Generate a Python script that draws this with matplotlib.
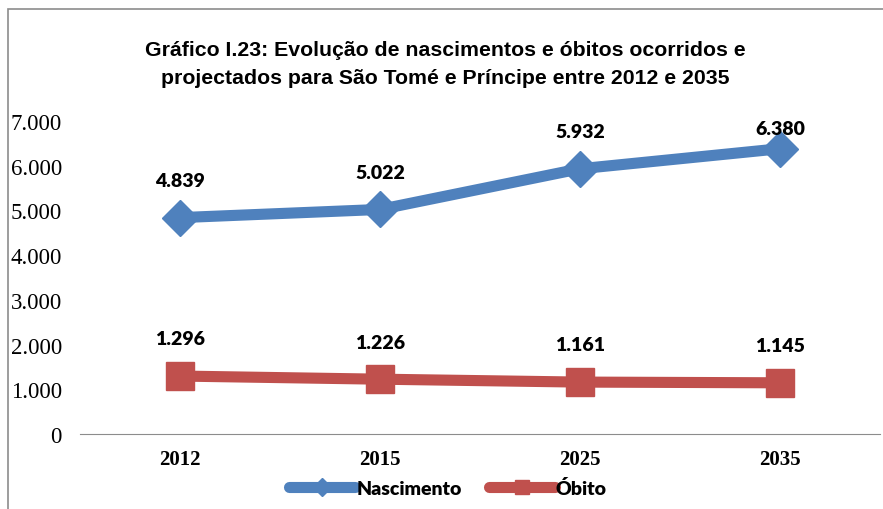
import matplotlib
matplotlib.use("Agg")
import matplotlib.pyplot as plt
from matplotlib.patches import Rectangle
from matplotlib.ticker import FuncFormatter

# Dados do gráfico
anos = ["2012", "2015", "2025", "2035"]
nascimento = [4839, 5022, 5932, 6380]
obito = [1296, 1226, 1161, 1145]

azul = "#4F81BD"
vermelho = "#C0504D"

fig = plt.figure(figsize=(8.83, 5.10), dpi=100)
ax = fig.add_axes([80 / 883, 1 - 435 / 510, 800 / 883, 313 / 510])

# borda do gráfico (só esquerda e topo aparecem)
fig.patches.append(Rectangle((8 / 883, -0.1), 1.2, 1 - 10 / 510 + 0.1,
                             transform=fig.transFigure, fill=False,
                             edgecolor="#8c8c8c", linewidth=1.2))

x = range(len(anos))
ax.plot(x, nascimento, color=azul, linewidth=8, marker="D", markersize=18,
        solid_capstyle="round", label="Nascimento", clip_on=False)
ax.plot(x, obito, color=vermelho, linewidth=8, marker="s", markersize=20,
        solid_capstyle="round", label="Óbito", clip_on=False)

fmt = lambda v: f"{v:,.0f}".replace(",", ".")
# rótulos ~37 px acima do ponto, sem passar do topo da área do gráfico
for serie in (nascimento, obito):
    for i, v in enumerate(serie):
        ax.text(i, min(v + 830, 6830), fmt(v), ha="center", va="center",
                fontsize=14, fontweight="heavy", family=["Lato", "DejaVu Sans"])

ax.set_xlim(-0.5, len(anos) - 0.5)
ax.set_ylim(0, 7000)
ax.set_yticks(range(0, 7001, 1000))
ax.yaxis.set_major_formatter(FuncFormatter(lambda v, p: fmt(v)))
ax.set_xticks(list(x))
ax.set_xticklabels(anos, fontfamily="Liberation Serif", fontweight="bold", fontsize=15)
for lbl in ax.get_yticklabels():
    lbl.set_fontfamily("Liberation Serif")
    lbl.set_fontsize(16.5)
ax.tick_params(axis="y", length=0, pad=13)
ax.tick_params(axis="x", length=0, pad=11)

for s in ["top", "right", "left"]:
    ax.spines[s].set_visible(False)
ax.spines["bottom"].set_color("#8c8c8c")

fig.text(445 / 883, 1 - 64 / 510,
         "Gráfico I.23: Evolução de nascimentos e óbitos ocorridos e\n"
         "projectados para São Tomé e Príncipe entre 2012 e 2035",
         ha="center", va="center", fontsize=15.3, fontweight="bold",
         family=["Liberation Sans Narrow", "Liberation Sans", "DejaVu Sans"],
         linespacing=1.6)

fig.legend(loc="center", bbox_to_anchor=(448 / 883, 1 - 489 / 510), ncol=2,
           frameon=False, prop={"weight": "heavy", "size": 14, "family": "Lato"},
           handlelength=3.4, handletextpad=0.05, columnspacing=1.4,
           markerscale=0.5)

fig.savefig("out.png", dpi=100)
